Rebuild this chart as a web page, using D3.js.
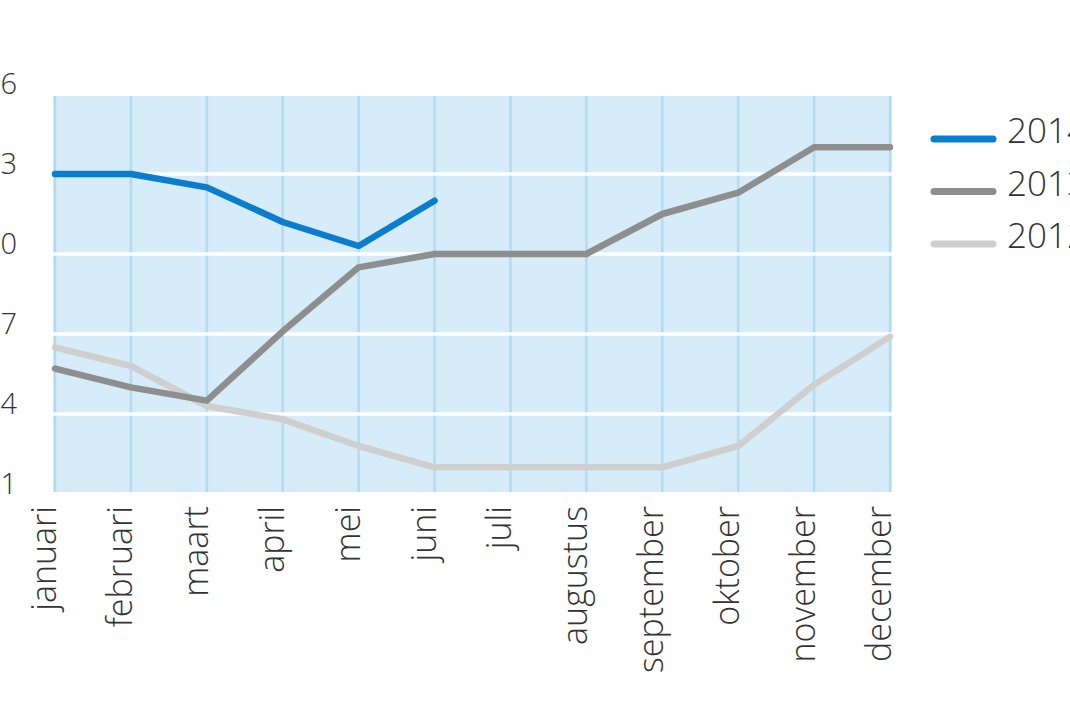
<!DOCTYPE html>
<html>
<head>
<meta charset="utf-8">
<script src="https://cdn.jsdelivr.net/npm/d3@7"></script>
<style>
  html, body { margin: 0; padding: 0; background: #fff; overflow: hidden; }
  svg { display: block; }
  text { font-family: "Open Sans", "Noto Sans", sans-serif; font-weight: 300; fill: #333; }
</style>
</head>
<body>
<div id="view"></div>
<script>
const months = ['januari', 'februari', 'maart', 'april', 'mei', 'juni', 'juli',
    'augustus', 'september', 'oktober', 'november', 'december'];
const yTicks = [1, 4, 7, 10, 13, 16];
const years = ['2014', '2013', '2012'];
const values2014 = [13.0, 13.0, 12.5, 11.2, 10.3, 12.0];
const values2013 = [5.7, 5.0, 4.5, 7.1, 9.5, 10.0, 10.0, 10.0, 11.5, 12.3, 14.0, 14.0];
const values2012 = [6.5, 5.8, 4.3, 3.8, 2.8, 2.0, 2.0, 2.0, 2.0, 2.8, 5.1, 6.9];
const colors = ['#0a7dcf', '#8e8e8e', '#cfcfcf'];

window.onload = () => {
    const width = 1070;
    const height = 713;

    const svg = d3.select('#view')
        .append('svg')
            .attr('width', width)
            .attr('height', height);

    // scales
    const x = d3.scalePoint().domain(months).range([55, 890]);
    const y = d3.scaleLinear().domain([1, 16]).range([494, 94]);

    // background
    svg.append('rect')
        .attr('x', x(months[0]) - 2)
        .attr('y', y(16) + 2)
        .attr('width', x(months[11]) - x(months[0]) + 4)
        .attr('height', y(1) - y(16) - 4)
        .attr('fill', '#d6ecf8');

    // vertical grid
    svg.append('g')
        .selectAll('line')
        .data(months)
        .join('line')
            .attr('x1', d => x(d))
            .attr('x2', d => x(d))
            .attr('y1', y(16) + 2)
            .attr('y2', y(1) - 2)
            .attr('stroke', '#b2dcf3')
            .attr('stroke-width', 2.5);

    // horizontal grid (white)
    svg.append('g')
        .selectAll('line')
        .data(yTicks.slice(1, -1))
        .join('line')
            .attr('x1', x(months[0]) - 2)
            .attr('x2', x(months[11]) + 2)
            .attr('y1', d => y(d))
            .attr('y2', d => y(d))
            .attr('stroke', '#fff')
            .attr('stroke-width', 3.5);

    // y labels (left part falls outside the page, as in the picture)
    svg.append('g')
        .selectAll('text')
        .data(yTicks)
        .join('text')
            .attr('x', 17)
            .attr('y', d => y(d))
            .attr('text-anchor', 'end')
            .style('font-size', '29px')
            .text(d => d);

    // x labels
    svg.append('g')
        .selectAll('text')
        .data(months)
        .join('text')
            .attr('transform', d => `translate(${x(d) + 1},506) rotate(-90)`)
            .attr('text-anchor', 'end')
            .style('font-size', '34px')
            .text(d => d);

    // lines
    const series = [values2014, values2013, values2012];
    const line = d3.line()
        .x((d, i) => x(months[i]))
        .y(d => y(d));
    [2, 1, 0].forEach(k => {
        svg.append('path')
            .datum(series[k])
            .attr('fill', 'none')
            .attr('stroke', colors[k])
            .attr('stroke-width', 6.5)
            .attr('stroke-linecap', 'round')
            .attr('stroke-linejoin', 'round')
            .attr('d', line);
    });

    // legend
    const legend = svg.append('g')
        .selectAll('g')
        .data(years)
        .join('g')
            .attr('transform', (d, i) => `translate(934,${139 + i * 52.5})`);
    legend.append('line')
        .attr('x1', 0)
        .attr('x2', 59)
        .attr('stroke', (d, i) => colors[i])
        .attr('stroke-width', 7)
        .attr('stroke-linecap', 'round');
    legend.append('text')
        .attr('x', 73)
        .attr('y', 4)
        .style('font-size', '35px')
        .text(d => d);
};
</script>
</body>
</html>
